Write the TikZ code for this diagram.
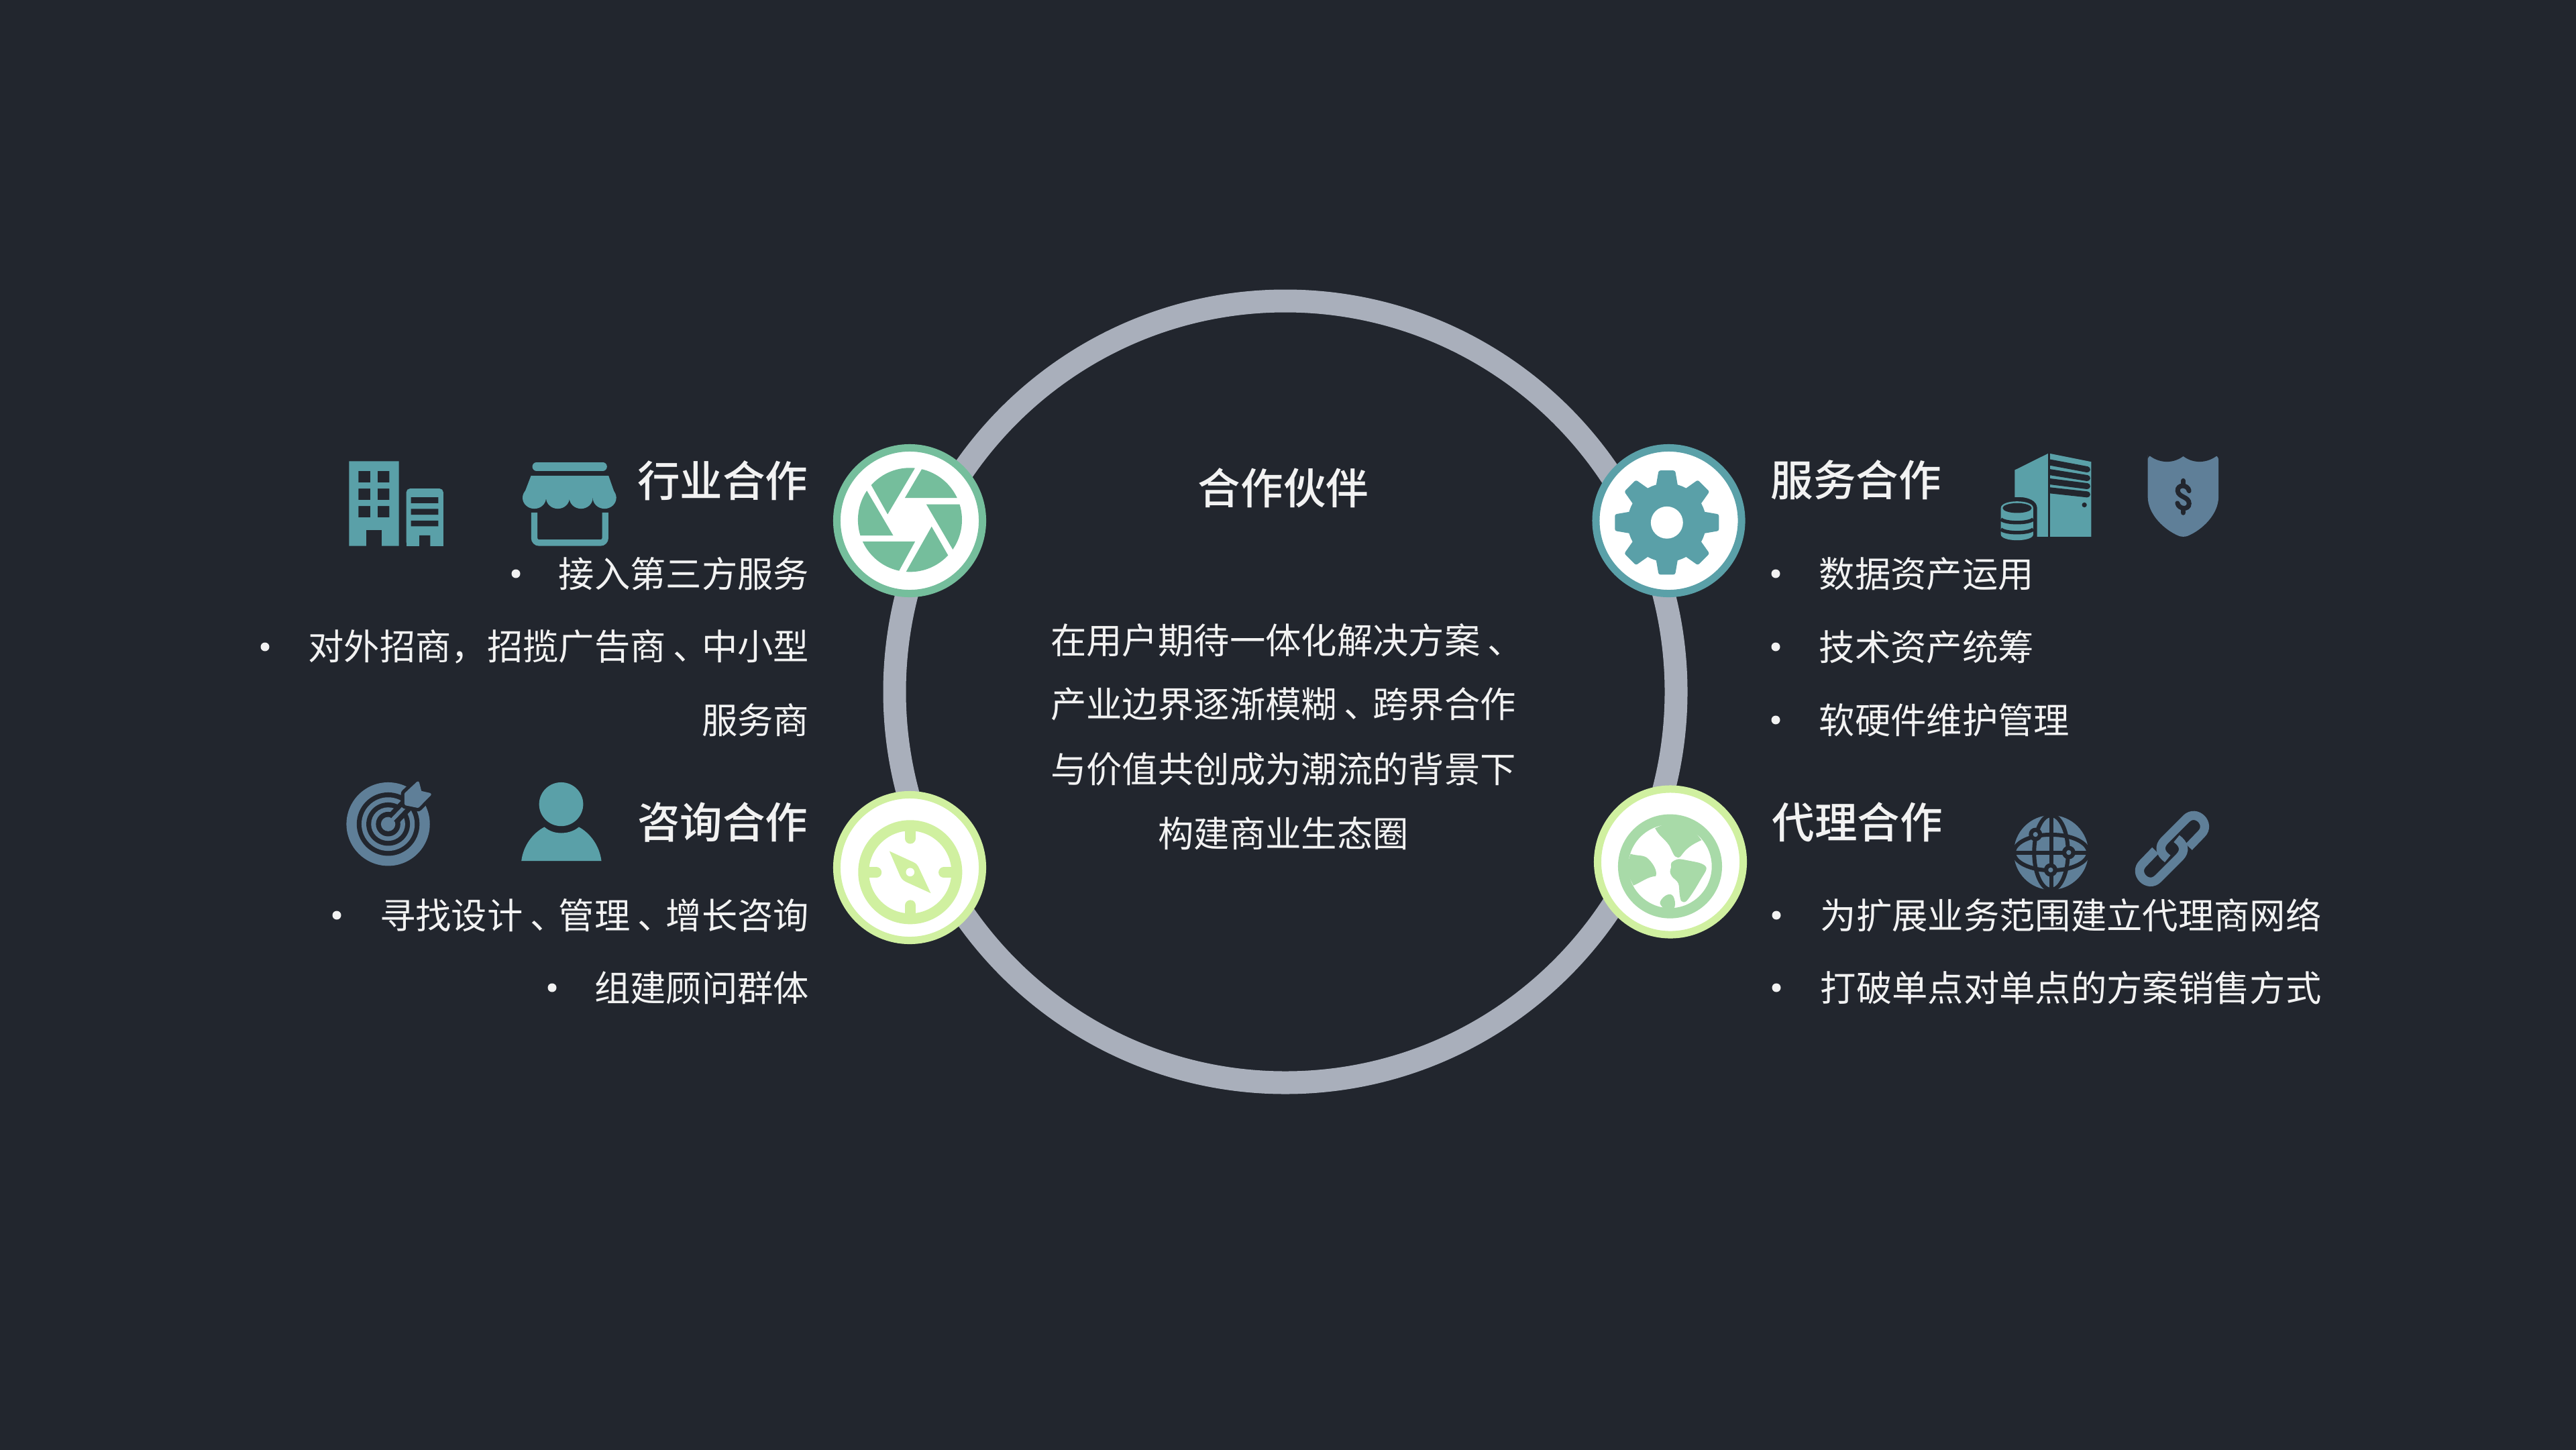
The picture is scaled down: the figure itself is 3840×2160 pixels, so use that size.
\documentclass[tikz,border=0pt]{standalone}
\usepackage{fontspec}
\setmainfont{Noto Sans CJK SC}
\newfontfamily\titlefont{Noto Sans CJK SC Medium}
\definecolor{bgc}{HTML}{22262E}
\definecolor{ringc}{HTML}{A9AFBB}
\definecolor{tealc}{HTML}{5AA0A8}
\definecolor{bluec}{HTML}{5F7F98}
\definecolor{shutc}{HTML}{75BE9C}
\definecolor{limec}{HTML}{D0F0A0}
\definecolor{leafc}{HTML}{A8DAA8}
\definecolor{textc}{HTML}{F2F2F2}
\def\zw{0.09484pt}
\newcommand\dunhao{\kern0.2em、\kern-0.2em\relax}
\tikzset{
  zmA/.style 2 args={shift={(#1,#2)},x=0.0033333cm,y=-0.0033333cm},
  zmB/.style 2 args={shift={(#1,#2)},x=0.0035714cm,y=-0.0033333cm},
  medal/.style={circle,draw=#1,fill=white,line width=3.13pt,minimum size=2.17cm,inner sep=0pt},
  bodytext/.style={text=textc,inner sep=0pt,font=\fontsize{15.17pt}{18pt}\selectfont},
  headtext/.style={text=textc,inner sep=0pt,font=\fontsize{18.07pt}{22pt}\selectfont\titlefont},
  dotmark/.style={circle,fill=textc,inner sep=0pt,minimum size=0.13cm},
}
\begin{document}
\begin{tikzpicture}[x=0.01cm,y=-0.01cm]
\useasboundingbox (0,0) rectangle (3840,2160);
\fill[bgc] (-10,-10) rectangle (3850,2170);
% ring
\draw[ringc,line width=9.67pt] (1916,1031) circle (582.5);
% medals
\node[medal=shutc] (shutter) at (1356,776) {};
\node[medal=limec] (compass) at (1356,1293) {};
\node[medal=tealc] (gear) at (2487.5,776) {};
\node[medal=limec] (earth) at (2490,1284.5) {};
% shutter icon
\begin{scope}[zmA={1220}{640}]
\clip (410,405) circle (233);
\fill[shutc] (310,380) -- (445,152) -- (250,120) -- (197,179) -- cycle;
\fill[shutc] (387,307) -- (490,132) -- (680,140) -- (680,307) -- cycle;
\fill[shutc] (483,335) -- (700,335) -- (700,603) -- (640,603) -- cycle;
\fill[shutc] (507,435) -- (620,632) -- (560,690) -- (370,677) -- cycle;
\fill[shutc] (433,502) -- (340,672) -- (150,680) -- (150,502) -- cycle;
\fill[shutc] (335,475) -- (140,475) -- (140,215) -- (182,215) -- cycle;
\end{scope}
% compass icon
\begin{scope}[zmA={1220}{1160}]
\fill[limec,even odd rule] (411,420) circle (233) (411,420) circle (185);
\draw[limec,line width=48*\zw,line cap=round] (411,225) -- (411,269);
\draw[limec,line width=48*\zw,line cap=round] (413,615) -- (413,569);
\draw[limec,line width=48*\zw,line cap=round] (215,422) -- (259,422);
\draw[limec,line width=48*\zw,line cap=round] (607,422) -- (562,422);
\fill[limec] (318,326) -- (425,375) .. controls (440,382) and (445,390) .. (452,405) -- (503,514) -- (395,465) .. controls (380,458) and (372,450) .. (365,435) -- cycle;
\fill[white] (411,420) circle (19);
\end{scope}
% gear icon
\begin{scope}[zmA={2360}{640}]
\fill[tealc] (375,417) circle (176);
\foreach \a in {0,45,...,315}{
  \fill[tealc,rounded corners=8*\zw,shift={(375,417)},rotate=\a] (-53,-140) -- (-37,-233) -- (37,-233) -- (53,-140) -- cycle;
}
\fill[white] (375,417) circle (72);
\end{scope}
% earth icon
\begin{scope}[zmA={2360}{1150}]
\fill[leafc,even odd rule] (389,424) circle (233) (389,424) circle (187);
\fill[leafc] (322,253) .. controls (340,290) and (365,300) .. (385,330) .. controls (400,355) and (405,385) .. (425,385) .. controls (445,385) and (440,345) .. (530,307) -- (480,240) -- (400,220) -- cycle;
\fill[leafc] (212,368) .. controls (240,378) and (265,372) .. (285,385) .. controls (310,405) and (335,445) .. (325,468) .. controls (290,470) and (260,495) .. (225,510) -- (190,440) -- cycle;
\fill[leafc] plot[smooth cycle,tension=.55] coordinates {(395,408) (425,392) (470,398) (530,412) (552,435) (525,485) (495,535) (462,580) (440,580) (432,550) (426,500) (398,470) (389,448) (394,428)};
\fill[leafc] plot[smooth cycle,tension=.7] coordinates {(352,603) (346,580) (375,552) (403,558) (410,605) (380,625)};
\end{scope}
% building + store icons
\begin{scope}[zmB={480}{640}]
\fill[tealc,even odd rule] (113,142) rectangle (321,522)
  (152,186) rectangle (202,238) (232,186) rectangle (281,238)
  (152,265) rectangle (202,316) (232,265) rectangle (281,316)
  (152,343) rectangle (202,394) (232,343) rectangle (281,394);
\fill[bgc] (186,450) rectangle (249,523);
\fill[tealc,rounded corners=1.5pt] (352,265) rectangle (506,522);
\fill[tealc] (352,500) rectangle (506,522);
\fill[bgc] (371,304) rectangle (485,330) (371,356) rectangle (485,382) (371,408) rectangle (485,434) (406,474) rectangle (452,523);
\draw[tealc,line width=37*\zw,line cap=round] (895,166.5) -- (1172,166.5);
\fill[tealc] (872,208) -- (1196,208) -- (1228,306) -- (837,306) -- cycle;
\foreach \c in {886,984,1081,1179}{\fill[tealc] (\c,306) circle (49 and 49);}
\draw[tealc,line width=28*\zw,rounded corners=2pt] (886,372) -- (886,507.5) -- (1182,507.5) -- (1182,372);
\end{scope}
% target + person icons
\begin{scope}[zmB={480}{1130}]
\fill[bluec] (276,295) circle (174 and 187);
\fill[bgc] (276,295) circle (131 and 142);
\fill[bluec] (276,295) circle (111 and 120);
\fill[bgc] (276,295) circle (91 and 97);
\fill[bluec] (276,295) circle (71 and 75);
\fill[bgc] (276,295) circle (51 and 55);
\fill[bluec] (276,295) circle (30 and 32);
\draw[bgc,line width=14pt*0.42] (295,275) -- (370,190);
\draw[bluec,line width=1.6pt] (285,285) -- (370,190);
\path[fill=bgc,draw=bgc,line width=4.2pt,line join=round] (350,160) -- (400,110) -- (410,152) -- (450,162) -- (400,216) -- (350,205) -- cycle;
\path[fill=bluec,draw=bluec,line width=1.2pt,line join=round] (350,160) -- (400,110) -- (410,152) -- (450,162) -- (400,216) -- (350,205) -- cycle;
\fill[tealc] (998,206) circle (92 and 98);
\fill[tealc] (832,460) .. controls (840,390) and (880,335) .. (928,308) .. controls (950,328) and (975,335) .. (998,335) .. controls (1022,335) and (1050,328) .. (1072,308) .. controls (1118,335) and (1158,390) .. (1166,460) -- cycle;
\end{scope}
% server + shield icons
\begin{scope}[zmA={2960}{640}]
\fill[tealc] (288,108) -- (473,145) -- (473,480) -- (288,480) -- cycle;
\foreach \ya/\yb in {146/179,190/218,232/254,272/291}{
  \draw[bgc,line width=27*\zw,line cap=round] (280,\ya) -- (455,\yb);
}
\fill[bgc] (279,100) rectangle (288,485);
\fill[tealc] (130,182) -- (279,108) -- (279,480) -- (230,480) -- (230,350) .. controls (230,320) and (190,303) .. (150,303) -- (130,303) -- cycle;
\fill[bgc] (442,338) circle (11);
\fill[tealc] (68,352) -- (68,470) .. controls (68,505) and (213,505) .. (213,470) -- (213,352) .. controls (213,312) and (68,312) .. (68,352) -- cycle;
\fill[bgc] (141,352) circle (65 and 22);
\draw[bgc,line width=16*\zw] (68,402) .. controls (90,422) and (191,422) .. (213,402);
\draw[bgc,line width=16*\zw] (68,447) .. controls (90,467) and (191,467) .. (213,447);
\fill[bluec,rounded corners=2pt] (726,115) -- (726,125) -- (726,280) .. controls (726,380) and (800,450) .. (885,485) .. controls (970,450) and (1043,380) .. (1043,280) -- (1043,115) -- cycle;
\fill[bgc] (720,100) -- (720,113) -- (735,118) .. controls (770,145) and (830,160) .. (885,120) .. controls (940,160) and (1000,145) .. (1035,118) -- (1050,113) -- (1050,100) -- cycle;
\draw[bgc,line width=21*\zw,line cap=round] (911,275) .. controls (905,245) and (858,245) .. (860,275) .. controls (863,305) and (911,300) .. (911,332) .. controls (911,362) and (864,358) .. (859,330);
\draw[bgc,line width=22*\zw,line cap=round] (885,230) -- (885,245);
\draw[bgc,line width=22*\zw,line cap=round] (885,358) -- (885,373);
\end{scope}
% globe + chain icons
\begin{scope}[zmA={2960}{1180}]
\fill[bluec] (293,272) circle (167);
\begin{scope}
\clip (293,272) circle (169);
\draw[bgc,line width=18*\zw] (293,100) -- (293,445);
\draw[bgc,line width=18*\zw] (120,272) -- (465,272);
\draw[bgc,line width=18*\zw] (293,272) circle (76 and 167);
\draw[bgc,line width=18*\zw] (293,272) circle (167 and 80);
\end{scope}
\foreach \p in {(223,191),(372,272),(291,350)}{
  \fill[bgc] \p circle (30);
  \fill[bluec] \p circle (11);
}
\draw[bluec,line width=40*\zw] (910,247) -- (966,189) .. controls (1011,144) and (943,76) .. (898,121) -- (801,218) .. controls (775,245) and (780,275) .. (815,300);
\draw[bluec,line width=40*\zw] (760,263) -- (704,321) .. controls (659,366) and (727,434) .. (772,389) -- (869,292) .. controls (895,265) and (890,235) .. (855,210);
\end{scope}
% centre texts
\node[headtext] (ctitle) at (1913,727) {合作伙伴};
\node[bodytext] (cl1) at (1913,954) {在用户期待一体化解决方案\dunhao};
\node[bodytext] (cl2) at (1913,1049) {产业边界逐渐模糊\dunhao 跨界合作};
\node[bodytext] (cl3) at (1913,1146) {与价值共创成为潮流的背景下};
\node[bodytext] (cl4) at (1913,1242) {构建商业生态圈};
% left texts
\node[headtext,anchor=east] (h1) at (1205,716) {行业合作};
\node[bodytext,anchor=east] (l1) at (1207,855) {接入第三方服务};
\node[dotmark] (b1) at (769,855) {};
\node[bodytext,anchor=east] (l2) at (1207,964) {对外招商，招揽广告商\dunhao 中小型};
\node[dotmark] (b2) at (395,964) {};
\node[bodytext,anchor=east] (l3) at (1207,1073) {服务商};
\node[headtext,anchor=east] (h2) at (1205,1225) {咨询合作};
\node[bodytext,anchor=east] (l4) at (1207,1364) {寻找设计\dunhao 管理\dunhao 增长咨询};
\node[dotmark] (b3) at (502,1364) {};
\node[bodytext,anchor=east] (l5) at (1207,1472) {组建顾问群体};
\node[dotmark] (b4) at (823,1472) {};
% right texts
\node[headtext,anchor=west] (h3) at (2639,715) {服务合作};
\node[bodytext,anchor=west] (r1) at (2711,855) {数据资产运用};
\node[dotmark] (b5) at (2647,855) {};
\node[bodytext,anchor=west] (r2) at (2711,964) {技术资产统筹};
\node[dotmark] (b6) at (2647,964) {};
\node[bodytext,anchor=west] (r3) at (2711,1073) {软硬件维护管理};
\node[dotmark] (b7) at (2647,1073) {};
\node[headtext,anchor=west] (h4) at (2641,1225) {代理合作};
\node[bodytext,anchor=west] (r4) at (2713,1364) {为扩展业务范围建立代理商网络};
\node[dotmark] (b8) at (2648,1364) {};
\node[bodytext,anchor=west] (r5) at (2713,1472) {打破单点对单点的方案销售方式};
\node[dotmark] (b9) at (2648,1472) {};
\end{tikzpicture}
\end{document}
